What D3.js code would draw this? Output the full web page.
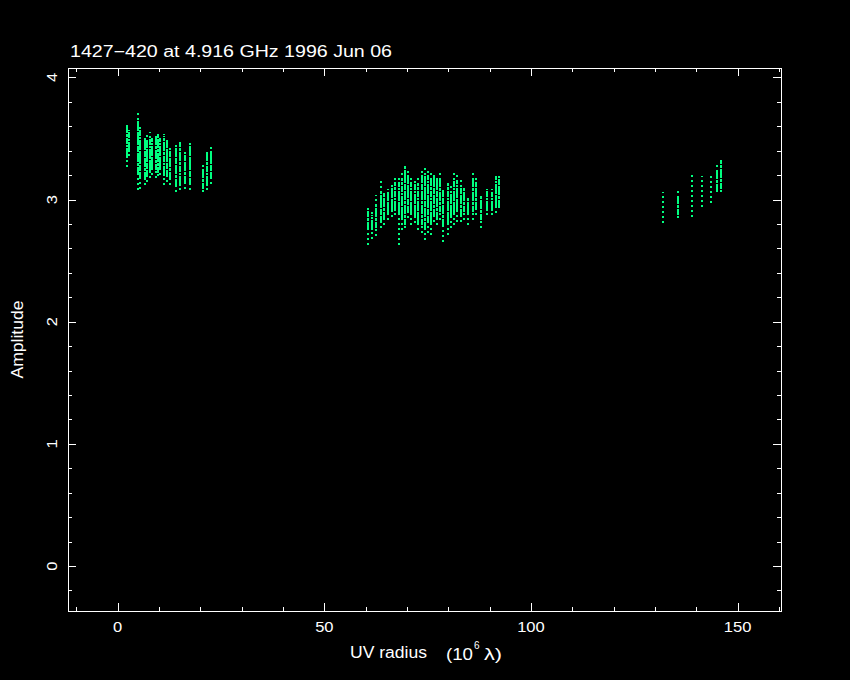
<!DOCTYPE html>
<html><head><meta charset="utf-8">
<script src="https://cdn.jsdelivr.net/npm/d3@7/dist/d3.min.js"></script>
<style>body{margin:0;background:#000}svg{display:block}</style>
</head><body>
<script>
// ---- data ----
const titleText = "1427\u2212420 at 4.916 GHz 1996 Jun 06";
const xLabelMain = "UV radius";
const yLabel = "Amplitude";
const xMajorTicks = [0, 50, 100, 150];
const xMinorTicks = [-10, 10, 20, 30, 40, 60, 70, 80, 90, 110, 120, 130, 140, 160];
const yMajorTicks = [0, 1, 2, 3, 4];
const yMinorTicks = [-0.2, 0.2, 0.4, 0.6, 0.8, 1.2, 1.4, 1.6, 1.8, 2.2, 2.4, 2.6, 2.8, 3.2, 3.4, 3.6, 3.8];

// full extent of each baseline track (UV radius, min amplitude, max amplitude)
const trackU = [2.3, 2.7, 4.9, 5.4, 6.6, 7.1, 7.8, 8.3, 9.3, 9.8, 10.2, 11.2, 11.9, 12.7, 14.1, 15.1, 16.3, 17.5, 20.6, 21.6, 22.6,
  60.6, 61.5, 62.5, 63.7, 64.4, 65.4, 66.4, 67.1, 68.1, 68.8, 69.5, 70.2, 71.0, 71.9, 72.7, 73.6, 74.4, 75.1, 75.8, 76.5, 77.3, 78.0, 78.7, 79.9, 80.6, 81.4, 82.1, 83.1, 83.8, 84.8, 86.0, 86.7, 87.9, 89.4, 90.6, 91.5, 92.3,
  131.9, 135.6, 138.9, 141.5, 143.6, 144.9, 146.0];
const trackMin = [3.27, 3.36, 3.08, 3.09, 3.12, 3.14, 3.18, 3.20, 3.18, 3.19, 3.20, 3.12, 3.14, 3.12, 3.06, 3.08, 3.09, 3.08, 3.06, 3.08, 3.13,
  2.63, 2.68, 2.70, 2.77, 2.79, 2.83, 2.86, 2.87, 2.63, 2.75, 2.77, 2.85, 2.79, 2.81, 2.75, 2.73, 2.67, 2.73, 2.71, 2.82, 2.79, 2.83, 2.65, 2.71, 2.77, 2.79, 2.82, 2.82, 2.83, 2.79, 2.83, 2.87, 2.77, 2.87, 2.87, 2.89, 2.93,
  2.81, 2.85, 2.86, 2.94, 2.97, 3.06, 3.06];
const trackMax = [3.63, 3.57, 3.71, 3.61, 3.51, 3.53, 3.55, 3.50, 3.53, 3.55, 3.51, 3.54, 3.50, 3.45, 3.47, 3.49, 3.40, 3.46, 3.28, 3.40, 3.44,
  2.94, 2.90, 3.04, 3.16, 3.08, 3.09, 3.14, 3.18, 3.18, 3.22, 3.29, 3.24, 3.18, 3.18, 3.18, 3.24, 3.26, 3.26, 3.24, 3.22, 3.20, 3.22, 3.10, 3.16, 3.12, 3.22, 3.20, 3.16, 3.12, 3.04, 3.22, 3.18, 3.05, 3.09, 3.09, 3.22, 3.20,
  3.06, 3.09, 3.22, 3.19, 3.21, 3.30, 3.35];

// densely sampled part of each track
const coreU = [2.3, 2.7, 4.9, 5.4, 6.6, 7.1, 7.8, 8.3, 9.3, 9.8, 10.2, 11.2, 11.9, 12.7, 14.1, 15.1, 16.3, 17.5, 20.6, 21.6, 22.6,
  60.6, 61.5, 62.5, 63.7, 64.4, 65.4, 66.4, 67.1, 68.1, 68.8, 69.5, 70.2, 71.0, 71.9, 72.7, 73.6, 74.4, 75.1, 75.8, 76.5, 77.3, 78.0, 78.7, 79.9, 80.6, 81.4, 82.1, 83.1, 83.8, 84.8, 86.0, 86.7, 87.9, 89.4, 90.6, 91.5, 92.3,
  135.6, 144.9, 146.0];
const coreMin = [3.34, 3.39, 3.22, 3.18, 3.18, 3.19, 3.22, 3.24, 3.24, 3.22, 3.24, 3.19, 3.19, 3.18, 3.12, 3.11, 3.14, 3.13, 3.09, 3.11, 3.18,
  2.77, 2.75, 2.77, 2.82, 2.85, 2.87, 2.90, 2.91, 2.87, 2.83, 2.79, 2.90, 2.87, 2.85, 2.79, 2.79, 2.77, 2.82, 2.79, 2.87, 2.85, 2.90, 2.79, 2.79, 2.85, 2.87, 2.90, 2.87, 2.90, 2.87, 2.90, 2.93, 2.83, 2.91, 2.91, 2.93, 2.95,
  2.87, 3.08, 3.09];
const coreMax = [3.61, 3.55, 3.67, 3.57, 3.49, 3.49, 3.52, 3.49, 3.50, 3.52, 3.49, 3.52, 3.47, 3.42, 3.42, 3.47, 3.39, 3.44, 3.26, 3.39, 3.40,
  2.91, 2.87, 2.96, 3.06, 3.04, 3.06, 3.12, 3.14, 3.14, 3.16, 3.27, 3.20, 3.14, 3.14, 3.12, 3.20, 3.22, 3.20, 3.18, 3.20, 3.16, 3.18, 3.06, 3.12, 3.08, 3.18, 3.16, 3.12, 3.09, 3.01, 3.16, 3.14, 3.03, 3.08, 3.06, 3.18, 3.18,
  3.01, 3.25, 3.31];

// ---- chart ----
const W = 850, H = 680;
const box = {left: 68, right: 781, top: 68, bottom: 611};
const x = d3.scaleLinear().domain([-12.03, 160.5]).range([box.left, box.right]);
const y = d3.scaleLinear().domain([-0.368, 4.077]).range([box.bottom, box.top]);
const green = "rgb(0,255,128)";
const font = "'Liberation Sans', 'DejaVu Sans', sans-serif";

const svg = d3.select("body").append("svg").attr("width", W).attr("height", H)
  .style("background", "#000");
svg.append("rect").attr("width", W).attr("height", H).attr("fill", "#000");

// tracks
const tracks = trackU.map((u, i) => ({u, lo: trackMin[i], hi: trackMax[i]}));
const cores = coreU.map((u, i) => ({u, lo: coreMin[i], hi: coreMax[i]}));
const gData = svg.append("g").attr("shape-rendering", "crispEdges");
gData.selectAll("line.ext").data(tracks).join("line").attr("class", "ext")
  .attr("x1", d => Math.round(x(d.u))).attr("x2", d => Math.round(x(d.u)))
  .attr("y1", d => y(d.lo)).attr("y2", d => y(d.hi))
  .attr("stroke", green).attr("stroke-width", 2).attr("stroke-dasharray", "2,3");
gData.selectAll("line.core").data(cores).join("line").attr("class", "core")
  .attr("x1", d => Math.round(x(d.u))).attr("x2", d => Math.round(x(d.u)))
  .attr("y1", d => y(d.lo)).attr("y2", d => y(d.hi))
  .attr("stroke", green).attr("stroke-width", 2).attr("stroke-dasharray", "6,1,3,1,2,1");

// frame
const gAx = svg.append("g").attr("shape-rendering", "crispEdges");
gAx.append("rect").attr("x", box.left).attr("y", box.top)
  .attr("width", box.right - box.left).attr("height", box.bottom - box.top)
  .attr("fill", "none").attr("stroke", "#fff").attr("stroke-width", 1);

function addAxis(axisFn, scale, vals, size, tr) {
  const a = axisFn(scale).tickValues(vals).tickSize(-size).tickFormat("");
  const g = gAx.append("g").attr("transform", tr).call(a);
  g.select(".domain").remove();
  g.selectAll("line").attr("stroke", "#fff");
}
addAxis(d3.axisBottom, x, xMajorTicks, 8, `translate(0,${box.bottom})`);
addAxis(d3.axisBottom, x, xMinorTicks, 4, `translate(0,${box.bottom})`);
addAxis(d3.axisTop, x, xMajorTicks, 8, `translate(0,${box.top})`);
addAxis(d3.axisTop, x, xMinorTicks, 4, `translate(0,${box.top})`);
addAxis(d3.axisLeft, y, yMajorTicks, 8, `translate(${box.left},0)`);
addAxis(d3.axisLeft, y, yMinorTicks, 4, `translate(${box.left},0)`);
addAxis(d3.axisRight, y, yMajorTicks, 8, `translate(${box.right},0)`);
addAxis(d3.axisRight, y, yMinorTicks, 4, `translate(${box.right},0)`);

// tick labels
svg.append("g").selectAll("text").data(xMajorTicks).join("text")
  .attr("x", d => x(d)).attr("y", 632).attr("text-anchor", "middle")
  .attr("fill", "#fff").attr("font-family", font).attr("font-size", 14)
  .attr("textLength", d => 9.2 * String(d).length).attr("lengthAdjust", "spacingAndGlyphs")
  .text(d => String(d));
svg.append("g").selectAll("text").data(yMajorTicks).join("text")
  .attr("transform", d => `translate(56.5,${y(d)}) rotate(-90)`)
  .attr("text-anchor", "middle")
  .attr("fill", "#fff").attr("font-family", font).attr("font-size", 14)
  .attr("textLength", 9.2).attr("lengthAdjust", "spacingAndGlyphs")
  .text(d => String(d));

// title
svg.append("text").attr("x", 70).attr("y", 57).attr("fill", "#fff")
  .attr("font-family", font).attr("font-size", 16)
  .attr("textLength", 322).attr("lengthAdjust", "spacingAndGlyphs")
  .text(titleText);

// y label
svg.append("text").attr("transform", `translate(23,${(box.top + box.bottom) / 2}) rotate(-90)`)
  .attr("text-anchor", "middle").attr("fill", "#fff")
  .attr("font-family", font).attr("font-size", 16)
  .attr("textLength", 78).attr("lengthAdjust", "spacingAndGlyphs")
  .text(yLabel);

// x label
const xl = svg.append("g").attr("fill", "#fff").attr("font-family", font).attr("font-size", 16);
xl.append("text").attr("x", 350).attr("y", 658).attr("textLength", 77).attr("lengthAdjust", "spacingAndGlyphs").text(xLabelMain);
xl.append("text").attr("x", 446).attr("y", 660).attr("textLength", 27).attr("lengthAdjust", "spacingAndGlyphs").text("(10");
xl.append("text").attr("x", 474).attr("y", 649).attr("font-size", 10).text("6");
xl.append("text").attr("x", 484).attr("y", 660).attr("textLength", 18).attr("lengthAdjust", "spacingAndGlyphs").text("\u03bb)");
</script>
</body></html>
